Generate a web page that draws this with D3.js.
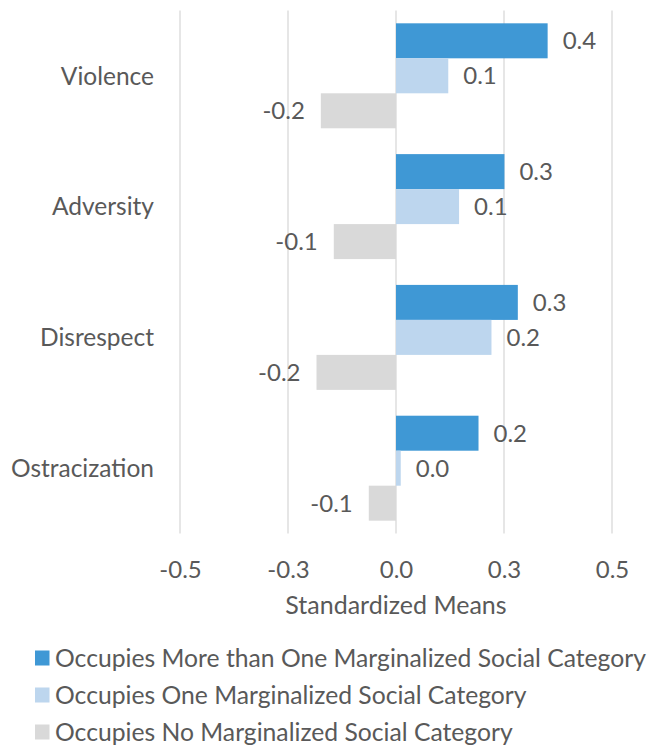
<!DOCTYPE html>
<html>
<head>
<meta charset="utf-8">
<script src="https://cdn.jsdelivr.net/npm/d3@7/dist/d3.min.js"></script>
<style>
  html, body { margin: 0; padding: 0; background: #fff; }
  svg text { font-family: Lato, "Open Sans", sans-serif; fill: #595959; }
</style>
</head>
<body>
<svg id="chart" width="648" height="746"></svg>
<script>
// Categories (top to bottom) and series
const categories = ["Violence", "Adversity", "Disrespect", "Ostracization"];
const seriesNames = [
  "Occupies More than One Marginalized Social Category",
  "Occupies One Marginalized Social Category",
  "Occupies No Marginalized Social Category"
];
const moreThanOne = [0.351, 0.251, 0.282, 0.191];
const oneCategory = [0.121, 0.146, 0.221, 0.011];
const noCategory  = [-0.174, -0.144, -0.184, -0.063];
const tickValues  = [-0.5, -0.25, 0, 0.25, 0.5];
const seriesColors = ["#3f98d5", "#bdd6ee", "#d9d9d9"];

const seriesValues = [moreThanOne, oneCategory, noCategory];

const fmt = d3.formatLocale({ decimal: ".", thousands: ",", grouping: [3],
                              currency: ["$", ""], minus: "-" }).format(".1f");

const svg = d3.select("#chart");

const x = d3.scaleLinear().domain([-0.5, 0.5]).range([180, 612]);
const y0 = d3.scaleBand().domain(categories).range([10.4, 533.6]).padding(0);
const y1 = d3.scaleBand().domain(d3.range(seriesNames.length))
  .range([0, y0.bandwidth()]).paddingInner(0).paddingOuter(0.369);

// Vertical gridlines
svg.append("g").selectAll("line").data(tickValues).join("line")
  .attr("x1", d => x(d)).attr("x2", d => x(d))
  .attr("y1", y0.range()[0]).attr("y2", y0.range()[1])
  .attr("stroke", "#d9d9d9").attr("stroke-width", 1.3);

// Bars
const rows = categories.map((c, i) => ({
  category: c,
  values: seriesValues.map((vals, s) => ({ s, v: vals[i] }))
}));

const groups = svg.append("g").selectAll("g").data(rows).join("g")
  .attr("transform", d => `translate(0,${y0(d.category)})`);

groups.selectAll("rect").data(d => d.values).join("rect")
  .attr("x", d => x(Math.min(0, d.v)))
  .attr("width", d => Math.abs(x(d.v) - x(0)))
  .attr("y", d => y1(d.s))
  .attr("height", y1.bandwidth())
  .attr("fill", d => seriesColors[d.s]);

// Value labels
groups.selectAll("text").data(d => d.values).join("text")
  .attr("x", d => d.v >= 0 ? x(d.v) + 15 : x(d.v) - 16)
  .attr("y", d => y1(d.s) + y1.bandwidth() / 2)
  .attr("dy", "0.36em")
  .attr("text-anchor", d => d.v >= 0 ? "start" : "end")
  .style("font-size", "24px")
  .text(d => fmt(d.v));

// Category labels
svg.append("g").selectAll("text").data(categories).join("text")
  .attr("x", 154)
  .attr("y", d => y0(d) + y0.bandwidth() / 2)
  .attr("dy", "0.36em")
  .attr("text-anchor", "end")
  .style("font-size", "24.5px")
  .text(d => d);

// X axis tick labels
const xAxis = d3.axisBottom(x).tickValues(tickValues).tickFormat(fmt).tickSize(0).tickPadding(0);
const axisG = svg.append("g").attr("transform", "translate(0,562)").call(xAxis);
axisG.select(".domain").remove();
axisG.selectAll("text")
  .attr("dy", null).attr("y", 16)
  .style("font-size", "24px")
  .style("font-family", "Lato, 'Open Sans', sans-serif")
  .attr("fill", "#595959");

// Axis title
svg.append("text")
  .attr("x", x(0)).attr("y", 614)
  .attr("text-anchor", "middle")
  .style("font-size", "25px")
  .text("Standardized Means");

// Legend
const legend = svg.append("g").selectAll("g").data(seriesNames).join("g")
  .attr("transform", (d, i) => `translate(35,${650.5 + i * 37})`);
legend.append("rect")
  .attr("width", 14.5).attr("height", 15)
  .attr("fill", (d, i) => seriesColors[i]);
legend.append("text")
  .attr("x", 20).attr("y", 16)
  .style("font-size", "24.7px")
  .text(d => d);
</script>
</body>
</html>
